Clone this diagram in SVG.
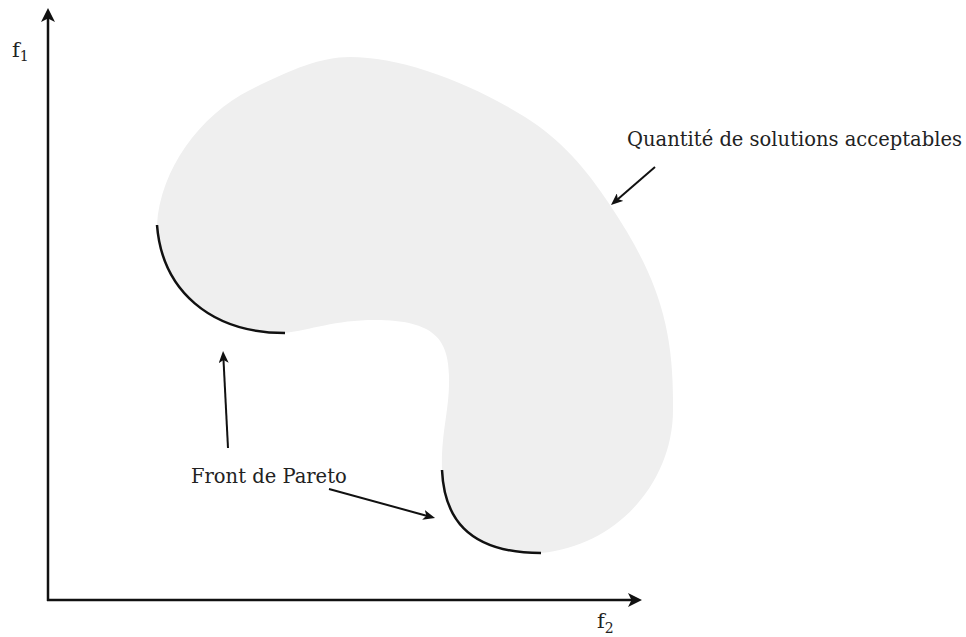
<svg xmlns="http://www.w3.org/2000/svg" width="966" height="637" viewBox="0 0 966 637">
<style>
text{font-family:"DejaVu Serif","Liberation Serif",serif;fill:#222}
.lbl{font-size:19.5px}
.ax{font-size:21px}
.sub{font-size:14px}
.axis{stroke:#111;stroke-width:2.5;fill:none}
.ann{stroke:#111;stroke-width:2;fill:none}
.front{stroke:#111;stroke-width:2.5;fill:none}
</style>
<defs>
<marker id="a1" markerUnits="userSpaceOnUse" markerWidth="14" markerHeight="14" refX="6" refY="7" orient="auto">
<path d="M0,0 L14,7 L0,14 L3.5,7 Z" fill="#111"/>
</marker>
<marker id="a2" markerUnits="userSpaceOnUse" markerWidth="12" markerHeight="10" refX="5" refY="5" orient="auto">
<path d="M0,0 L12,5 L0,10 L3,5 Z" fill="#111"/>
</marker>
</defs>
<g id="region">
<path fill="#efefef" d="M157,225 C160,170 200,115 250,90 C290,70 320,57 350,57 C400,57 465,80 525,117 C560,139 585,167 610,205 C660,280 674,330 673,410 C673,480 620,545 541,553 C465,553 444,515 442,470 C441,430 450,410 449,375 C448,340 435,320 375,320 C335,320 310,330 285,333 C210,333 162,290 157,225 Z"/>
</g>
<g id="front1"><path class="front" d="M157,225 C162,290 210,333 285,333"/></g>
<g id="front2"><path class="front" d="M442,470 C444,515 465,553 541,553"/></g>
<g id="axes">
<line class="axis" x1="48" y1="601" x2="48" y2="16" marker-end="url(#a1)"/>
<line class="axis" x1="47" y1="600" x2="634" y2="600" marker-end="url(#a1)"/>
<text class="ax" x="12" y="57">f<tspan class="sub" dy="4">1</tspan></text>
<text class="ax" x="597" y="628">f<tspan class="sub" dy="5">2</tspan></text>
</g>
<g id="labels">
<text class="lbl" x="627" y="145.5">Quantité de solutions acceptables</text>
<text class="lbl" x="191" y="483">Front de Pareto</text>
</g>
<g id="connectors">
<line class="ann" x1="655" y1="167" x2="616.3" y2="200.4" marker-end="url(#a2)"/>
<line class="ann" x1="228" y1="448" x2="223.4" y2="358" marker-end="url(#a2)"/>
<line class="ann" x1="329" y1="489" x2="428.3" y2="516.2" marker-end="url(#a2)"/>
</g>
</svg>
